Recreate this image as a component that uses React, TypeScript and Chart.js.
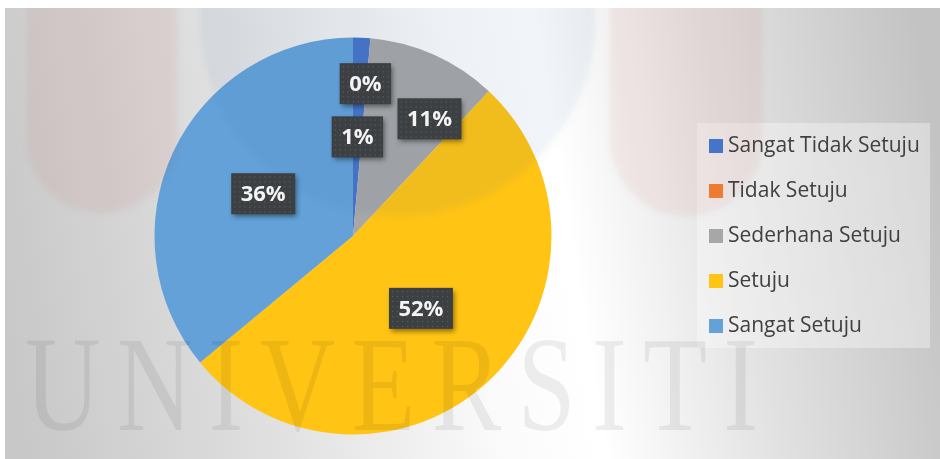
import { useEffect, useRef } from "react";
import { Chart, registerables } from "chart.js";

Chart.register(...registerables);

const categories = [
  "Sangat Tidak Setuju",
  "Tidak Setuju",
  "Sederhana Setuju",
  "Setuju",
  "Sangat Setuju",
];
const values = [1.4, 0, 10.6, 52, 36];
const sliceColors = ["#4674c8", "#ef7a31", "#a7a7a7", "#ffc414", "#63a1d8"];
const watermarkWord = "UNIVERSITI";

// label placement: fraction of radius and angle shift (degrees) per slice
const labelRadius = [0.5, 0.77, 0.705, 0.5, 0.5];
const labelAngleShift = [0, -0.4, 9, 0, 0];

const W = 935;
const H = 451;

function roundedPill(ctx: CanvasRenderingContext2D, x0: number, x1: number, bottom: number) {
  const r = (x1 - x0) / 2;
  const cx = x0 + r;
  const cy = bottom - r;
  ctx.beginPath();
  ctx.moveTo(x0, -10);
  ctx.lineTo(x0, cy);
  ctx.arc(cx, cy, r, Math.PI, 0, true);
  ctx.lineTo(x1, -10);
  ctx.closePath();
  ctx.fill();
}

const backgroundPlugin = {
  id: "bg",
  beforeDraw(chart: any) {
    const ctx = chart.ctx as CanvasRenderingContext2D;
    ctx.save();
    const g = ctx.createLinearGradient(0, 300, W, 150);
    g.addColorStop(0, "#c8c8c8");
    g.addColorStop(0.22, "#dcdcdc");
    g.addColorStop(0.5, "#fbfbfb");
    g.addColorStop(0.6, "#ffffff");
    g.addColorStop(0.78, "#e2e2e2");
    g.addColorStop(1, "#c3c3c3");
    ctx.fillStyle = g;
    ctx.fillRect(0, 0, W, H);
    // legend panel
    ctx.fillStyle = "rgba(255,255,255,0.35)";
    ctx.fillRect(692, 115, 233, 225);
    ctx.restore();
  },
};

const watermarkPlugin = {
  id: "wm",
  afterDatasetsDraw(chart: any) {
    const ctx = chart.ctx as CanvasRenderingContext2D;
    ctx.save();
    ctx.filter = "blur(3px)";
    ctx.fillStyle = "rgba(200,40,40,0.065)";
    roundedPill(ctx, 22, 172, 205);
    roundedPill(ctx, 605, 757, 208);
    ctx.fillStyle = "rgba(40,100,160,0.065)";
    ctx.beginPath();
    ctx.arc(393, 10, 198, 0, Math.PI * 2);
    ctx.fill();
    ctx.filter = "none";
    ctx.fillStyle = "rgba(0,0,0,0.065)";
    ctx.font = "136px 'Liberation Serif'";
    (ctx as any).letterSpacing = "21px";
    ctx.textBaseline = "alphabetic";
    ctx.translate(20, 422);
    ctx.scale(0.77, 1);
    ctx.fillText(watermarkWord, 0, 0);
    ctx.restore();
  },
};

const labelPlugin = {
  id: "lbl",
  afterDraw(chart: any) {
    const ctx = chart.ctx as CanvasRenderingContext2D;
    const meta = chart.getDatasetMeta(0);
    const data = chart.data.datasets[0].data as number[];
    const total = data.reduce((a, b) => a + b, 0);
    ctx.save();
    ctx.font = "bold 22px 'Open Sans'";
    ctx.textAlign = "center";
    ctx.textBaseline = "middle";
    meta.data.forEach((arc: any, i: number) => {
      const p = arc.getProps(["x", "y", "startAngle", "endAngle", "outerRadius"], true);
      const a = (p.startAngle + p.endAngle) / 2 + (labelAngleShift[i] * Math.PI) / 180;
      const r = p.outerRadius * labelRadius[i];
      const cx = p.x + Math.cos(a) * r;
      const cy = p.y + Math.sin(a) * r;
      const text = Math.round((data[i] / total) * 100) + "%";
      const tw = ctx.measureText(text).width;
      const bw = tw + 19;
      const bh = 41;
      const bx = cx - bw / 2;
      const by = cy - bh / 2;
      ctx.save();
      ctx.shadowColor = "rgba(0,0,0,0.45)";
      ctx.shadowBlur = 5;
      ctx.shadowOffsetX = 2;
      ctx.shadowOffsetY = 3;
      ctx.fillStyle = "#3d4043";
      ctx.fillRect(bx, by, bw, bh);
      ctx.restore();
      ctx.fillStyle = "rgba(120,120,120,0.45)";
      for (let yy = by + 3; yy < by + bh - 1; yy += 5) {
        for (let xx = bx + 3; xx < bx + bw - 1; xx += 5) {
          ctx.fillRect(xx, yy, 1.3, 1.3);
        }
      }
      ctx.fillStyle = "#f4f4f4";
      ctx.fillText(text, cx, cy + 1);
    });
    ctx.restore();
  },
};

const legendPlugin = {
  id: "customLegend",
  afterDraw(chart: any) {
    const ctx = chart.ctx as CanvasRenderingContext2D;
    const labels = chart.data.labels as string[];
    const cols = chart.data.datasets[0].backgroundColor as string[];
    ctx.save();
    ctx.font = "21px 'Open Sans'";
    ctx.textBaseline = "middle";
    ctx.textAlign = "left";
    labels.forEach((t, i) => {
      const cy = 138 + i * 45;
      ctx.fillStyle = cols[i];
      ctx.fillRect(704, cy - 7, 14, 14);
      ctx.fillStyle = "#404040";
      ctx.fillText(t, 723, cy);
    });
    ctx.restore();
  },
};

export default function App() {
  const ref = useRef<HTMLCanvasElement | null>(null);
  useEffect(() => {
    if (!ref.current) return;
    const chart = new Chart(ref.current, {
      type: "pie",
      data: {
        labels: categories,
        datasets: [
          {
            data: values,
            backgroundColor: sliceColors,
            borderWidth: 0,
          },
        ],
      },
      options: {
        responsive: false,
        animation: false,
        layout: { padding: { left: 149.5, right: 388.5, top: 29.5, bottom: 24.5 } },
        plugins: {
          legend: { display: false },
          tooltip: { enabled: false },
        },
      },
      plugins: [backgroundPlugin, watermarkPlugin, labelPlugin, legendPlugin],
    });
    return () => chart.destroy();
  }, []);
  return (
    <div
      style={{
        position: "absolute",
        left: 5,
        top: 8,
        width: W,
        height: H,
        borderTop: "1px solid #b4b4b4",
        boxSizing: "border-box",
      }}
    >
      <canvas ref={ref} width={W} height={H} style={{ display: "block", marginTop: -1 }} />
    </div>
  );
}
